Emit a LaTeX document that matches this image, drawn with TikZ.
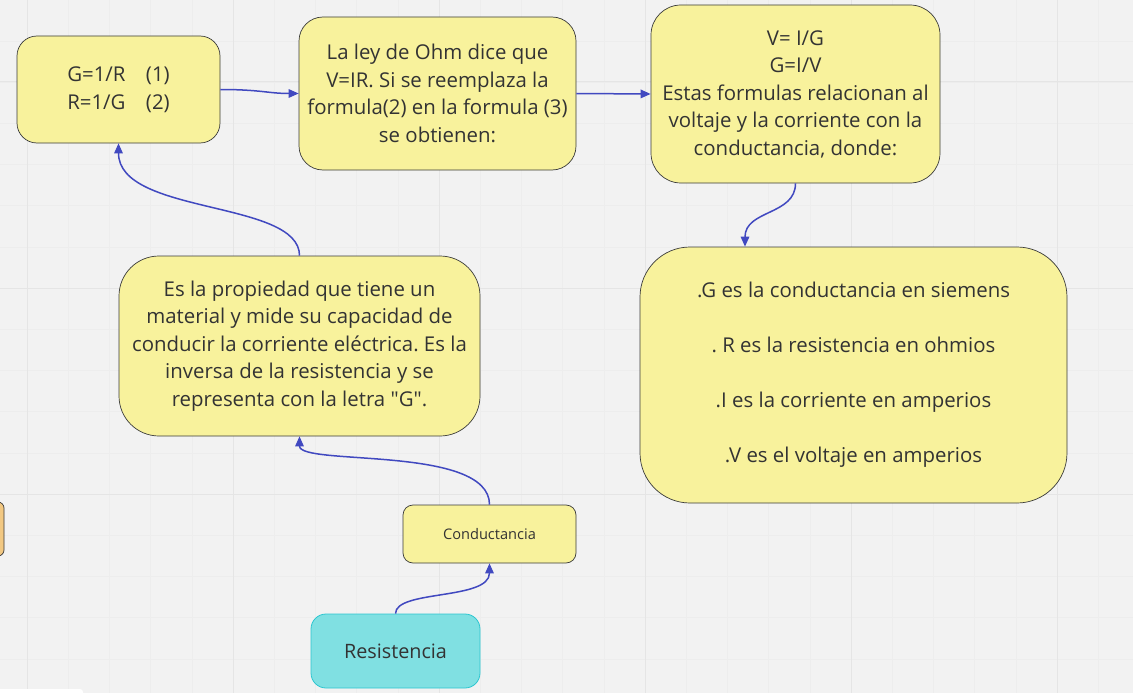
\documentclass[tikz,border=0pt]{standalone}
\usepackage{fontspec}
\setmainfont{Open Sans}[Ligatures=TeXOff]
\frenchspacing
\usetikzlibrary{arrows.meta}
\definecolor{bg}{HTML}{F2F2F2}
\definecolor{gridminor}{HTML}{EDEDED}
\definecolor{gridmajor}{HTML}{E5E5E5}
\definecolor{yfill}{HTML}{F8F29C}
\definecolor{bordergray}{HTML}{3A3A3A}
\definecolor{txt}{HTML}{333333}
\definecolor{arrowblue}{HTML}{4149C0}
\definecolor{cyanfill}{HTML}{80E0E2}
\definecolor{cyanborder}{HTML}{2CC6D0}
\definecolor{orangefill}{HTML}{F2C882}
\tikzset{
  ybox/.style={draw=bordergray, line width=0.7pt, fill=yfill, align=center, inner sep=0pt, text=txt,
    font=\fontsize{20.4}{27.5}\selectfont},
  conn/.style={draw=arrowblue, line width=1.5pt, -{Triangle[length=10pt,width=8.5pt]}},
}
\begin{document}
\begin{tikzpicture}[x=1pt,y=-1pt]
\useasboundingbox (0,0) rectangle (1133,693);
\fill[bg] (0,0) rectangle (1133,693);
\begin{scope}
\clip (0,0) rectangle (1133,693);
\foreach \i in {-1,...,28} {
  \draw[gridminor, line width=0.5pt] ({27+41.2*\i},0) -- ({27+41.2*\i},693);
}
\foreach \i in {-2,...,17} {
  \draw[gridminor, line width=0.5pt] (0,{82+41.2*\i}) -- (1133,{82+41.2*\i});
}
\foreach \x in {27,233,439,645,851,1057} \draw[gridmajor, line width=1pt] (\x,0) -- (\x,693);
\foreach \y in {82,288,494} \draw[gridmajor, line width=1pt] (0,\y) -- (1133,\y);
% partial orange box at left edge
\draw[draw=bordergray, line width=0.7pt, fill=orangefill, rounded corners=6pt] (-30,502) rectangle (4,556);
% white element at bottom-left
\fill[white, rounded corners=3pt] (-10,689) rectangle (83,700);
\end{scope}

\node[ybox, rounded corners=20pt, minimum width=203, minimum height=107] (g) at (118.5,89.5)
  {G=1/R\quad(1)\\R=1/G\quad(2)};
\node[ybox, rounded corners=24pt, minimum width=277, minimum height=153] (o) at (437.5,93.5)
  {La ley de Ohm dice que\\V=IR. Si se reemplaza la\\formula(2) en la formula (3)\\se obtienen:};
\node[ybox, rounded corners=30pt, minimum width=289, minimum height=178] (v) at (795.5,94)
  {V= I/G\\G=I/V\\Estas formulas relacionan al\\voltaje y la corriente con la\\conductancia, donde:};
\node[ybox, rounded corners=50pt, minimum width=427, minimum height=256] (big) at (853.5,375)
  {.G es la conductancia en siemens\\[27.5pt]. R es la resistencia en ohmios\\[27.5pt].I es la corriente en amperios\\[27.5pt].V es el voltaje en amperios};
\node[ybox, rounded corners=40pt, minimum width=361, minimum height=180] (p) at (299.5,346)
  {Es la propiedad que tiene un\\material y mide su capacidad de\\conducir la corriente eléctrica. Es la\\inversa de la resistencia y se\\representa con la letra "G".};
\node[ybox, rounded corners=10pt, minimum width=173, minimum height=58, font=\fontsize{14.6}{18}\selectfont] (c) at (489.5,534)
  {Conductancia};
\node[draw=cyanborder, line width=0.8pt, fill=cyanfill, rounded corners=15pt, minimum width=169, minimum height=74,
  inner sep=0pt, text=txt, font=\fontsize{19.8}{24}\selectfont] (r) at (395.5,651) {Resistencia};

\draw[conn] (g.east) .. controls +(40,0) and +(-30,0) .. (o.west);
\draw[conn] (o.east) -- (v.west);
\draw[conn] (v.south) .. controls +(0,32) and +(0,-37) .. ([xshift=-108.5pt]big.north);
\draw[conn] (p.north) .. controls +(0,-56) and +(0,72) .. (g.south);
\draw[conn] (c.north) .. controls +(0,-60) and +(0,30) .. (p.south);
\draw[conn] (r.north) .. controls +(0,-24) and +(0,37) .. (c.south);
\end{tikzpicture}
\end{document}
